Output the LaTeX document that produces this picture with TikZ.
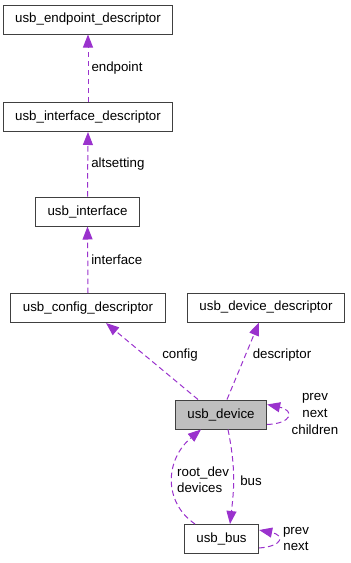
\documentclass[tikz,border=0pt]{standalone}
\usepackage{fontspec}
\setmainfont{Liberation Sans}
\usetikzlibrary{arrows.meta}
\definecolor{edgepurple}{HTML}{9A32CD}
\definecolor{nodefill}{HTML}{BFBFBF}
\definecolor{nodeline}{HTML}{404040}

\begin{document}
\begin{tikzpicture}[x=1pt, y=-1pt, >={Triangle[length=13pt, width=10pt]},
    box/.style={draw=nodeline, line width=1pt, inner xsep=12pt, inner ysep=0pt, minimum height=29pt, font=\fontsize{13.3}{16}\selectfont},
    lbl/.style={font=\fontsize{13.3}{16}\selectfont, inner sep=3pt, text=black},
    usage/.style={->, edgepurple, line width=1pt, dash pattern=on 5.5pt off 3.5pt}]

        \useasboundingbox (0,0) rectangle (351,563);

        % Structs
        \node at (88,19.5) [box] (ep) {usb\_endpoint\_descriptor};
        \node at (88,117) [box] (ifd) {usb\_interface\_descriptor};
        \node at (87.5,211.5) [box] (ifc) {usb\_interface};
        \node at (88,308) [box] (cfg) {usb\_config\_descriptor};
        \node at (266,307.5) [box] (ddesc) {usb\_device\_descriptor};
        \node at (221,414.5) [box, fill=nodefill] (dev) {usb\_device};
        \node at (221.5,539) [box] (bus) {usb\_bus};

        % Members
        \draw[usage] (ifd.north) -- (ep.south) node[midway, right, lbl] (lep) {endpoint};
        \draw[usage] (ifc.north) -- (ifd.south) node[midway, right, lbl] (lalt) {altsetting};
        \draw[usage] (cfg.north) -- (ifc.south) node[midway, right, lbl] (lifc) {interface};
        \draw[usage] ([xshift=-23pt]dev.north) -- ([xshift=18pt]cfg.south);
        \draw[usage] ([xshift=6pt]dev.north) -- ([xshift=-7pt]ddesc.south);
        \draw[usage] ([yshift=-10pt]dev.east) .. controls +(25,-1) and +(28,6) .. ([yshift=10pt]dev.east);
        \draw[usage] ([xshift=7pt]dev.south) .. controls +(8,40) and +(4,-35) .. ([xshift=8.5pt]bus.north);
        \draw[usage] ([xshift=-26.5pt]bus.north) .. controls +(-32,-22) and +(-36,30) .. ([xshift=-20pt]dev.south);
        \draw[usage] ([yshift=-9pt]bus.east) .. controls +(25,-2) and +(25,5) .. ([yshift=9pt]bus.east);

        % Labels
        \node at (180,355) [lbl] (lcfg) {config};
        \node at (282,355) [lbl] (ldesc) {descriptor};
        \node at (315,414) [lbl, align=center, font=\fontsize{13.3}{17}\selectfont] (ldev) {prev\\next\\children};
        \node at (251,481) [lbl] (lbus) {bus};
        \node at (174,480) [lbl, anchor=west, align=left] (lroot) {root\_dev\\devices};
        \node at (296,539) [lbl, align=center] (lnext) {prev\\next};

    \end{tikzpicture}
\end{document}
